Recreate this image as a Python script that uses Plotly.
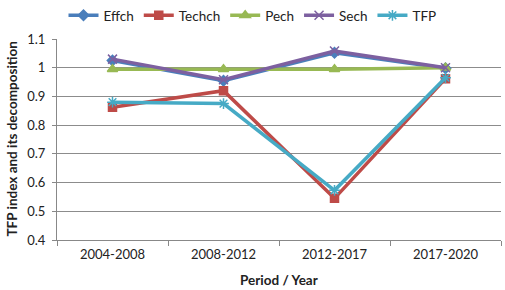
import plotly.graph_objects as go

periods = ["2004-2008", "2008-2012", "2012-2017", "2017-2020"]
effch = [1.025, 0.955, 1.052, 0.998]
techch = [0.862, 0.920, 0.545, 0.962]
pech = [0.995, 0.995, 0.995, 1.000]
sech = [1.030, 0.958, 1.058, 1.000]
tfp = [0.880, 0.875, 0.573, 0.965]
yticks = [0.4, 0.5, 0.6, 0.7, 0.8, 0.9, 1, 1.1]
yticklabels = ["0.4", "0.5", "0.6", "0.7", "0.8", "0.9", "1", "1.1"]

series = [
    ("Effch", effch, "#4A7EBB", "diamond", 8),
    ("Techch", techch, "#BE4B48", "square", 8),
    ("Pech", pech, "#98B954", "triangle-up", 9),
    ("Sech", sech, "#7D60A0", "x-thin-open", 9),
    ("TFP", tfp, "#46AAC5", "asterisk-open", 9),
]

fig = go.Figure()
for name, vals, color, sym, size in series:
    fig.add_trace(go.Scatter(
        x=periods, y=vals, name=name, mode="lines+markers",
        line=dict(color=color, width=3.5),
        marker=dict(symbol=sym, size=size, color=color,
                    line=dict(color=color, width=1.5)),
    ))

font = "Lato, 'Open Sans', sans-serif"
L, T, R, B = 57, 39, 4, 50
fig.update_layout(
    width=505, height=290,
    margin=dict(l=L, r=R, t=T, b=B),
    paper_bgcolor="white", plot_bgcolor="white",
    font=dict(family=font, size=12, color="#222"),
    showlegend=True,
    legend=dict(orientation="h", x=0.5, xanchor="center", xref="container",
                y=1.0, yanchor="top", yref="container", font=dict(size=13.5),
                itemwidth=30, tracegroupgap=0,
                bgcolor="rgba(0,0,0,0)"),
    xaxis=dict(
        type="category", showgrid=False, automargin=False,
        showline=True, linecolor="#888", linewidth=1,
        ticks="outside", tickson="boundaries", ticklen=5, tickcolor="#888",
        tickfont=dict(size=13, color="#222"), ticklabelstandoff=2,
        range=[-0.5, 3.5],
    ),
    yaxis=dict(
        range=[0.4, 1.1], tickvals=yticks, ticktext=yticklabels, automargin=False,
        showgrid=True, gridcolor="#8c8c8c", gridwidth=1,
        showline=True, linecolor="#888", linewidth=1,
        ticks="outside", ticklen=4, tickcolor="#888",
        tickfont=dict(size=13, color="#222"), ticklabelstandoff=4,
        zeroline=False,
    ),
    annotations=[
        dict(text="<b>TFP index and its decomposition</b>", textangle=-90,
             xref="paper", yref="paper", x=-(L - 11) / (505 - L - R), y=0.5,
             xanchor="center", yanchor="middle", showarrow=False,
             font=dict(size=13.5, color="#222")),
        dict(text="<b>Period / Year</b>",
             xref="paper", yref="paper", x=0.5, y=-(280 - (290 - B)) / (290 - T - B),
             xanchor="center", yanchor="middle", showarrow=False,
             font=dict(size=13.5, color="#222")),
    ],
)

fig.write_html("out.html", config={"displayModeBar": False},
               post_script="document.body.style.margin='0px';")
